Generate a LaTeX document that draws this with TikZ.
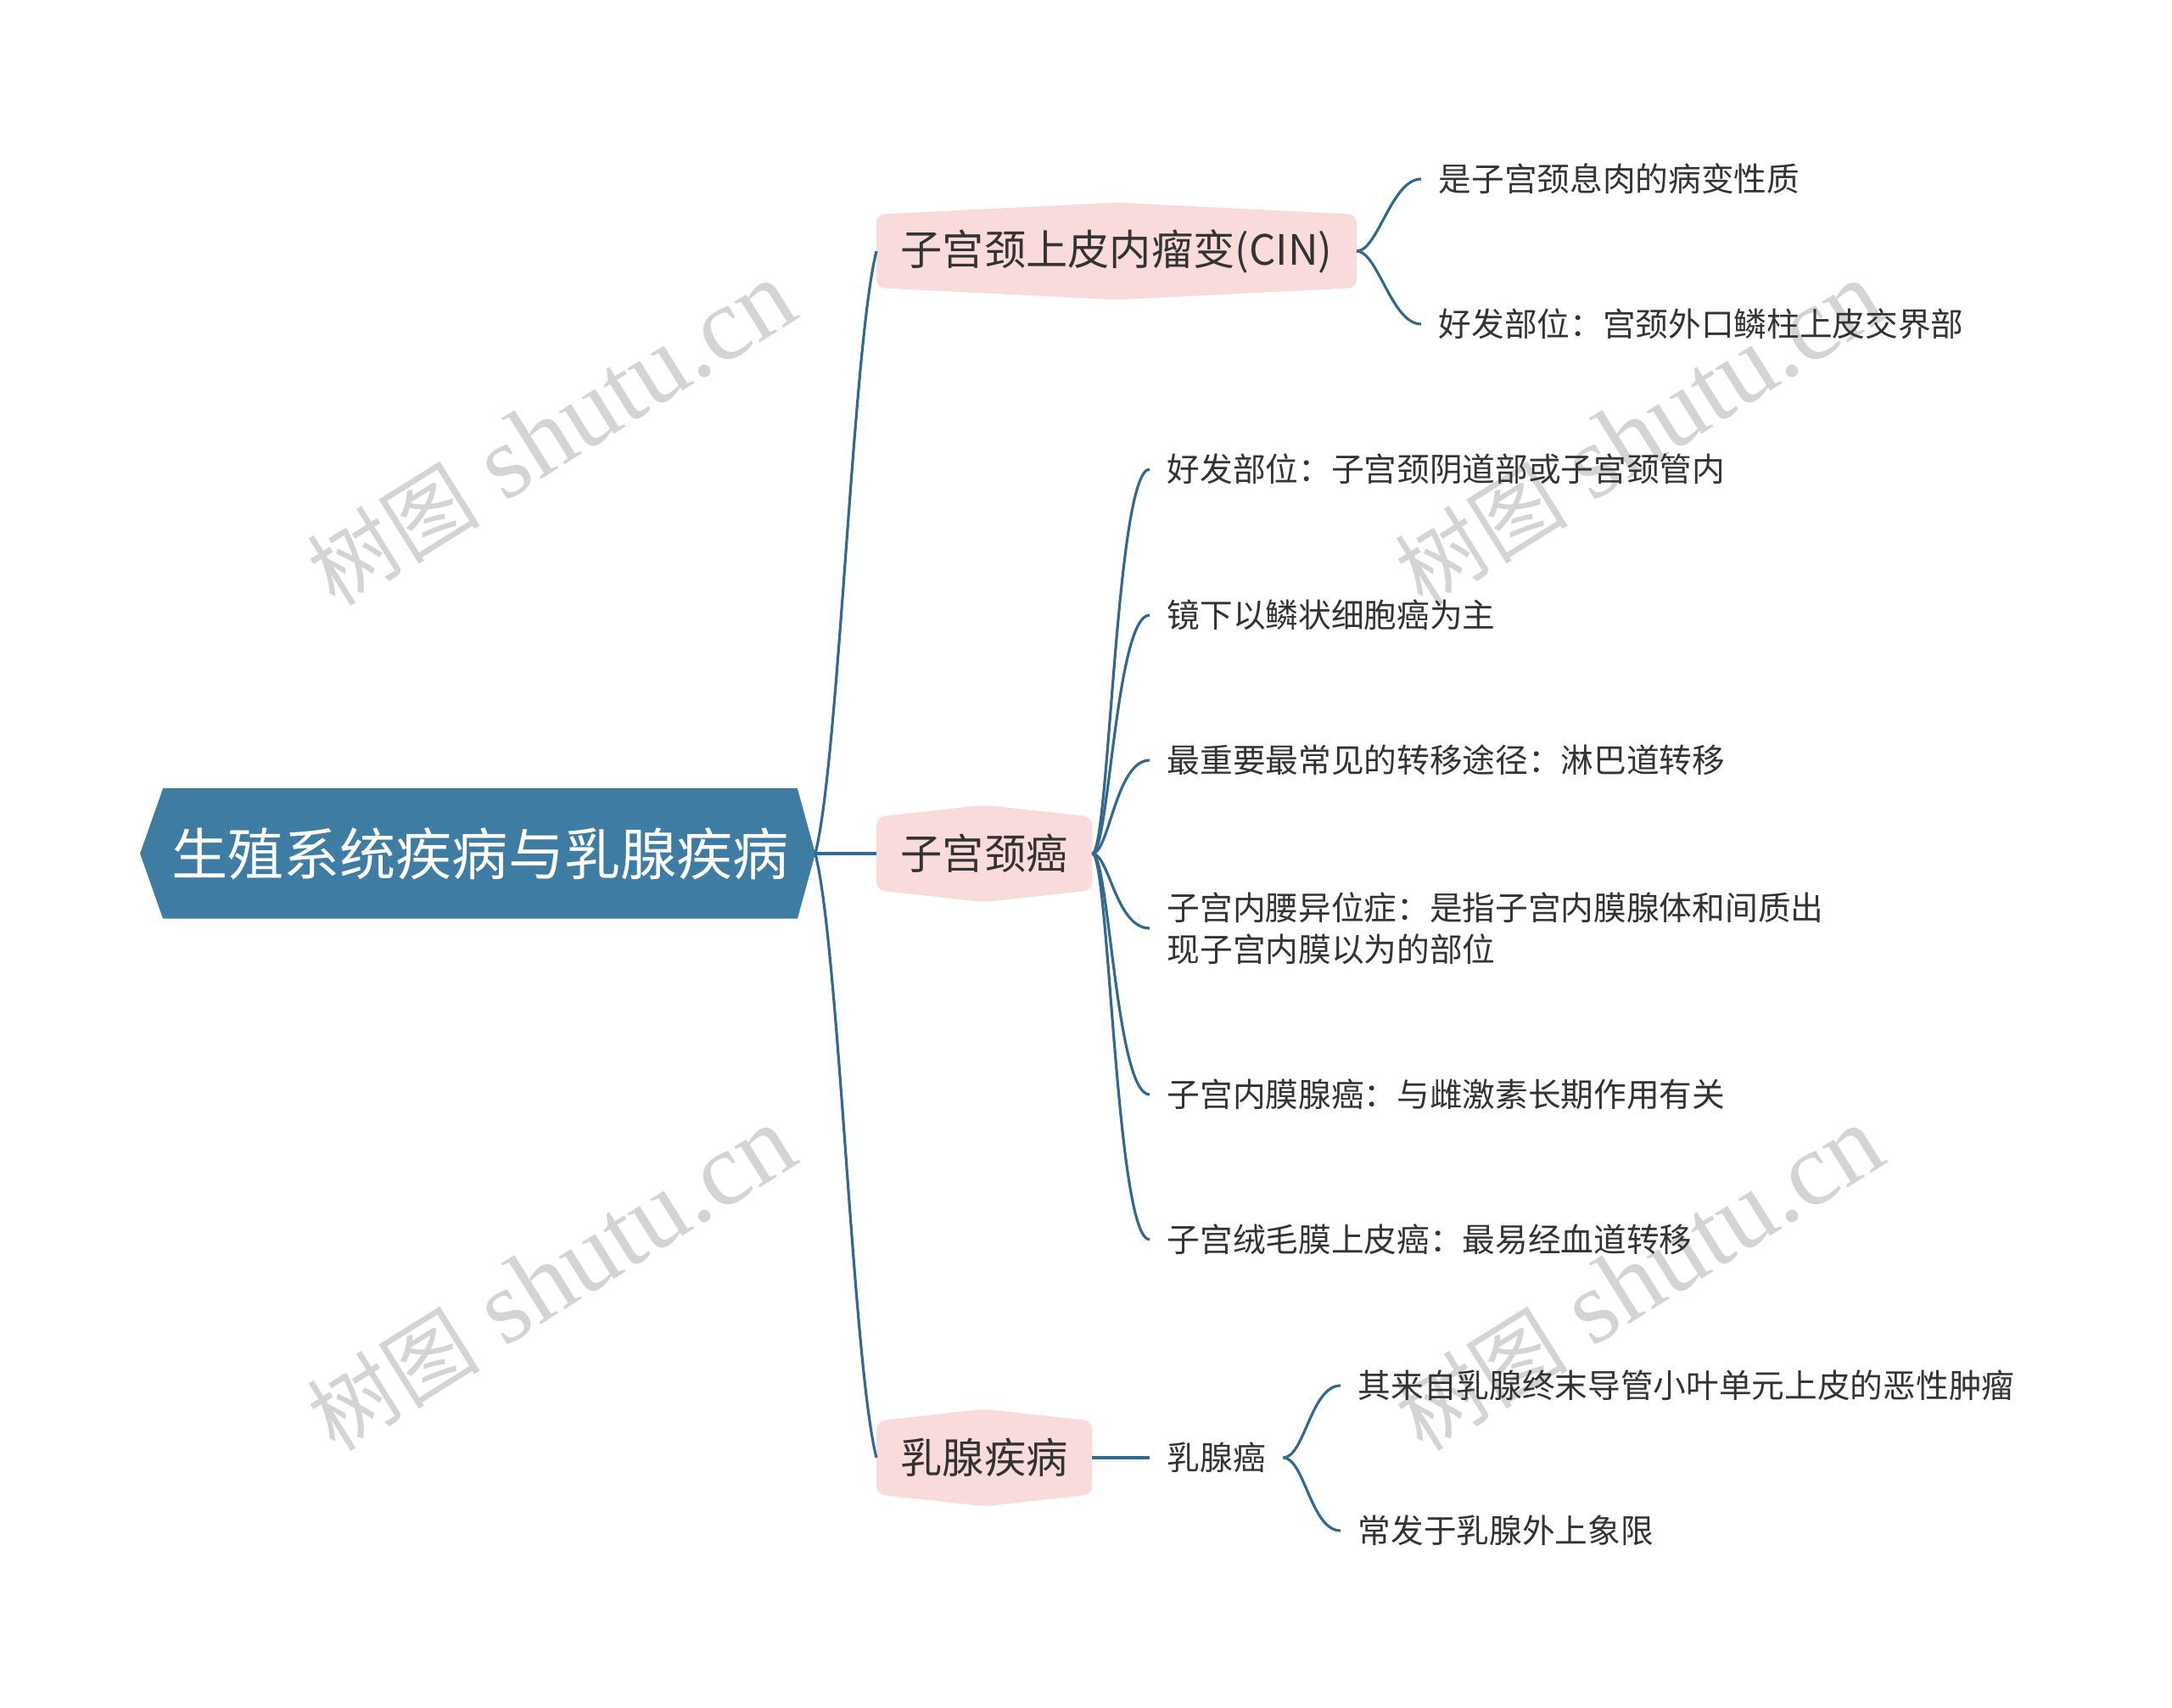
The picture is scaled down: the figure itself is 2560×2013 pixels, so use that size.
\documentclass[tikz,border=0pt]{standalone}
\usepackage{fontspec}
\setmainfont{Liberation Serif}
\newfontfamily\cjk{Noto Sans CJK SC}
\usetikzlibrary{backgrounds}

\definecolor{rootblue}{HTML}{3E7CA3}
\definecolor{linkblue}{HTML}{33698F}
\definecolor{subpink}{HTML}{FADBDB}
\definecolor{txtgray}{HTML}{333333}
\definecolor{markgray}{HTML}{D4D4D4}

% pink box with a small peak on top and bottom
\newcommand{\pinkbox}[1]{\fill[subpink, rounded corners=0.1cm] (#1.north west) -- ([yshift=0.14cm]#1.north) -- (#1.north east) -- (#1.south east) -- ([yshift=-0.14cm]#1.south) -- (#1.south west) -- cycle;}

\begin{document}
\begin{tikzpicture}[x=0.01cm, y=-0.01cm,
	root/.style={inner sep=0pt, minimum width=7.46cm, minimum height=1.52cm, text=white, font=\cjk\fontsize{18.8}{22}\selectfont},
	sub/.style={anchor=west, inner xsep=0.28cm, inner ysep=0pt, minimum height=0.85cm, text=txtgray, font=\cjk\fontsize{14}{17}\selectfont},
	leaf/.style={anchor=west, inner xsep=0.2cm, inner ysep=0.05cm, align=left, text=txtgray, font=\cjk\fontsize{11}{13.9}\selectfont},
	link/.style={draw=linkblue, line width=0.9pt},
	wmark/.style={text=markgray, rotate=32, font=\fontsize{35}{40}\selectfont}]
		\useasboundingbox (0,0) rectangle (2560,2013);
		%draw watermarks
		\node[wmark] (w1) at (650,512) {{\cjk\fontsize{29}{34}\selectfont 树图} shutu.cn};
		\node[wmark] (w2) at (1932,512) {{\cjk\fontsize{29}{34}\selectfont 树图} shutu.cn};
		\node[wmark] (w3) at (650,1508) {{\cjk\fontsize{29}{34}\selectfont 树图} shutu.cn};
		\node[wmark] (w4) at (1932,1508) {{\cjk\fontsize{29}{34}\selectfont 树图} shutu.cn};
		%draw main topic
		\node[root] (root) at (566,1006) {生殖系统疾病与乳腺疾病};
		\path (root.east) ++(21,0) coordinate (rtip);
		\path (root.west) ++(-27,0) coordinate (ltip);
		%draw subtopics
		\node[sub] (cin) at (1033,296) {子宫颈上皮内瘤变(CIN)};
		\node[sub] (cc) at (1033,1006) {子宫颈癌};
		\node[sub] (bd) at (1033,1718) {乳腺疾病};
		%draw leaves
		\node[leaf] (cin1) at (1675,211) {是子宫颈息肉的病变性质};
		\node[leaf] (cin2) at (1675,382) {好发部位：宫颈外口鳞柱上皮交界部};
		\node[leaf] (cc1) at (1355,553) {好发部位：子宫颈阴道部或子宫颈管内};
		\node[leaf] (cc2) at (1355,725) {镜下以鳞状细胞癌为主};
		\node[leaf] (cc3) at (1355,896) {最重要最常见的转移途径：淋巴道转移};
		\node[leaf] (cc4) at (1355,1094) {子宫内腰异位症：是指子宫内膜腺体和间质出\\现子宫内膜以为的部位};
		\node[leaf] (cc5) at (1355,1290) {子宫内膜腺癌：与雌激素长期作用有关};
		\node[leaf] (cc6) at (1355,1461) {子宫绒毛膜上皮癌：最易经血道转移};
		\node[leaf] (bc) at (1355,1718) {乳腺癌};
		\node[leaf] (bc1) at (1580,1633) {其来自乳腺终末导管小叶单元上皮的恶性肿瘤};
		\node[leaf] (bc2) at (1580,1804) {常发于乳腺外上象限};
		%draw shapes behind the texts
		\begin{scope}[on background layer]
			\fill[rootblue] (root.north west) -- (root.north east) -- (rtip) -- (root.south east) -- (root.south west) -- (ltip) -- cycle;
			\pinkbox{cin}
			\pinkbox{cc}
			\pinkbox{bd}
		\end{scope}
		%draw connectors
		\draw[link] (rtip) .. controls +(28,-110) and +(-28,110) .. (cin.west);
		\draw[link] (rtip) -- (cc.west);
		\draw[link] (rtip) .. controls +(28,110) and +(-28,-110) .. (bd.west);
		\foreach \n in {cin1,cin2}
			\draw[link] (cin.east) .. controls +(25,0) and +(-35,0) .. (\n.west);
		\foreach \n in {cc1,cc2,cc3,cc4,cc5,cc6}
			\draw[link] (cc.east) .. controls +(20,0) and +(-40,0) .. (\n.west);
		\draw[link] (bd.east) -- (bc.west);
		\foreach \n in {bc1,bc2}
			\draw[link] (bc.east) .. controls +(25,0) and +(-35,0) .. (\n.west);
\end{tikzpicture}
\end{document}
